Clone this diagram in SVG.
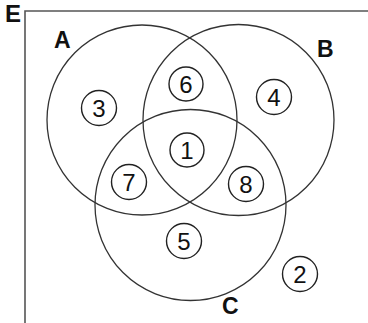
<svg xmlns="http://www.w3.org/2000/svg" width="368" height="323" viewBox="0 0 368 323">
<style>
.big{fill:none;stroke:#333;stroke-width:1.3}
.sm{fill:#fff;stroke:#222;stroke-width:1.4}
.num{font-family:"Liberation Sans",Arial,sans-serif;font-size:24px;fill:#111;text-anchor:middle}
.lbl{font-family:"Liberation Sans",Arial,sans-serif;font-size:23px;font-weight:bold;fill:#111}
.frame{fill:none;stroke:#555;stroke-width:1.6}
</style>
<rect width="368" height="323" fill="#fff"/>
<g id="frame">
<path class="frame" d="M25,323 V11 H368"/>
<text class="lbl" x="5" y="22" style="font-size:24px">E</text>
</g>
<g id="setA"><circle class="big" cx="142" cy="120" r="95"/><text class="lbl" x="54" y="48">A</text></g>
<g id="setB"><circle class="big" cx="238.5" cy="120" r="95.5"/><text class="lbl" x="317" y="57">B</text></g>
<g id="setC"><circle class="big" cx="190.5" cy="205" r="95.5"/><text class="lbl" x="222" y="314">C</text></g>
<g id="n3"><circle class="sm" cx="99" cy="108" r="17.5"/><text class="num" x="99" y="116.5">3</text></g>
<g id="n6"><circle class="sm" cx="186" cy="84" r="17"/><text class="num" x="186" y="92.5">6</text></g>
<g id="n4"><circle class="sm" cx="274" cy="97" r="17.5"/><text class="num" x="274" y="105.5">4</text></g>
<g id="n1"><circle class="sm" cx="187" cy="150" r="17"/><text class="num" x="187" y="158.5">1</text></g>
<g id="n7"><circle class="sm" cx="129" cy="182" r="17.5"/><text class="num" x="129" y="190.5">7</text></g>
<g id="n8"><circle class="sm" cx="246" cy="184" r="17.5"/><text class="num" x="246" y="192.5">8</text></g>
<g id="n5"><circle class="sm" cx="184" cy="241" r="17.5"/><text class="num" x="184" y="249.5">5</text></g>
<g id="n2"><circle class="sm" cx="300" cy="274" r="17.5"/><text class="num" x="300" y="282.5">2</text></g>
</svg>
